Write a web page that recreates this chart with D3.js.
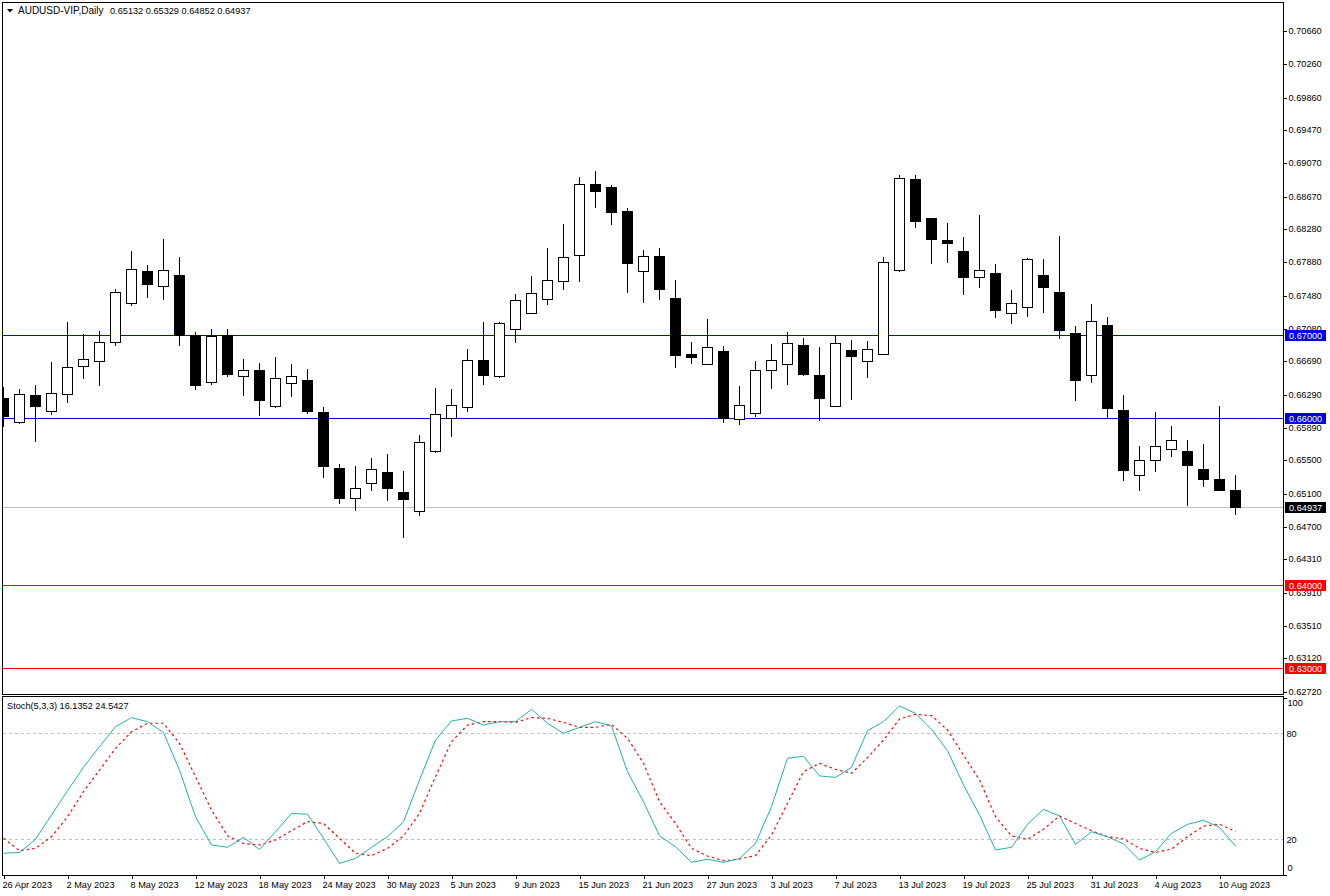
<!DOCTYPE html>
<html>
<head>
<meta charset="utf-8">
<script src="https://cdn.jsdelivr.net/npm/d3@7"></script>
<style>
  body { margin: 0; background: #fff; }
  text { font-family: "Liberation Sans", sans-serif; font-size: 9.2px; fill: #000; }
</style>
</head>
<body>
<script>
var opens = [.66245,.65957,.66281,.66084,.66293,.66630,.66690,.66918,.67387,.67772,.67591,.67724,.66994,.66438,.66994,.66510,.66582,.66149,.66426,.66462,
  .66077,.65404,.65043,.65224,.65356,.65115,.64887,.65608,.66005,.66137,.66702,.66510,.67075,.67267,.67435,.67652,.67964,.68817,.68781,.68493,
  .67772,.67952,.67447,.66774,.66654,.66810,.65993,.66065,.66582,.66654,.66882,.66522,.66149,.66822,.66690,.66774,.67784,.68877,.68409,.68136,
  .68012,.67700,.67748,.67267,.67339,.67724,.67519,.67026,.66522,.67123,.66101,.65320,.65500,.65632,.65608,.65392,.65272,.65132];
var highs = [.66393,.66357,.66417,.66682,.67171,.67026,.67063,.67567,.68024,.67856,.68168,.67952,.67051,.67087,.67087,.66726,.66678,.66750,.66666,.66606,
  .66149,.65464,.65440,.65536,.65584,.65380,.65813,.66377,.66365,.66846,.67171,.67171,.67507,.67724,.68060,.68349,.68914,.68986,.68817,.68541,
  .68036,.68060,.67676,.66930,.67207,.66882,.66401,.66702,.66906,.67051,.66978,.66870,.67002,.66954,.66942,.67952,.68938,.68938,.68409,.68361,
  .68192,.68457,.67868,.67555,.67940,.67928,.68204,.67123,.67387,.67231,.66293,.65680,.66089,.65921,.65753,.65704,.66161,.65329];
var lows = [.65904,.65940,.65724,.66048,.66192,.66481,.66397,.66878,.67358,.67454,.67430,.66878,.66349,.66409,.66505,.66277,.66036,.66132,.66265,.66060,
  .65291,.64978,.64894,.65135,.65015,.64570,.64834,.65591,.65784,.66084,.66409,.66493,.66914,.67267,.67370,.67551,.67647,.68536,.68332,.67514,
  .67394,.67430,.66613,.66661,.66654,.65952,.65928,.66024,.66361,.66409,.66517,.65976,.66149,.66228,.66493,.66774,.67767,.68296,.67863,.67875,
  .67490,.67575,.67214,.67142,.67226,.67274,.66962,.66216,.66433,.66005,.65255,.65135,.65363,.65543,.64954,.65183,.65135,.64852];
var closes = [.66024,.66293,.66144,.66305,.66618,.66714,.66918,.67519,.67796,.67611,.67784,.67006,.66397,.66990,.66529,.66582,.66216,.66486,.66510,.66084,
  .65423,.65039,.65164,.65392,.65159,.65027,.65716,.66053,.66161,.66702,.66517,.67147,.67423,.67507,.67663,.67940,.68817,.68728,.68476,.67863,
  .67952,.67551,.66757,.66733,.66858,.66005,.66161,.66582,.66702,.66906,.66529,.66240,.66906,.66745,.66834,.67880,.68889,.68368,.68151,.68103,
  .67695,.67784,.67298,.67387,.67916,.67575,.67058,.66457,.67171,.66120,.65375,.65500,.65668,.65740,.65435,.65267,.65135,.64937];

var stochMain = [12.1,12.6,20,33.8,47.5,60.8,72.5,83.8,88.9,86.6,80.4,59.2,32.8,16.8,15.5,21.1,14.3,24.3,34.7,34.2,
  20.6,6.4,9.2,15.5,21.5,30,53.6,76.2,87,88.5,84.7,86.6,86.6,93.6,85.7,80,83.4,86.6,84.2,58.3,
  41.3,22,15.8,7,8.7,7,9.1,17.7,38.5,65.9,67,55.9,55.1,60.8,81.5,86.6,95.5,91.3,82.3,70.2,
  50.8,33.8,14,15.5,28.5,37,33.2,17.2,24.3,21.5,17.4,8.3,13,23.4,28.5,30.8,26.8,16.1352];
var stochSignal = [20.6,13.6,14.9,21.5,32.8,47,59.2,71.5,80.9,85.7,85.7,74.3,55.5,36.6,22,17.7,16.8,19.6,24.9,30,
  29,20.6,12.1,10.8,14.9,22,34.7,55.5,75.3,84.7,86.6,86.6,86.2,88.9,88.5,86.2,83.4,83.4,85.1,77.2,
  63,41.3,29,14.9,10.6,7.9,8.9,10.8,22.5,40.4,58.3,63,59.6,57.4,66.2,76.2,88.1,90.8,90,81.9,
  67.7,53.6,32.8,21.9,20,25.7,33.2,29,24.9,21.5,20.2,14.9,12.6,14.5,21.5,27.5,28.5,24.5427];

var priceTicks = [.7066,.7026,.6986,.6947,.6907,.6867,.6828,.6788,.6748,.6708,.6669,.6629,.6589,.655,.651,.647,.6431,.6391,.6351,.6312,.6272];
var stochTicks = [100,80,20,0];
var stochLevels = [80,20];
var dateTickIndex = [0,4,8,12,16,20,24,28,32,36,40,44,48,52,56,60,64,68,72,76];
var dateTickLabels = ['26 Apr 2023','2 May 2023','8 May 2023','12 May 2023','18 May 2023','24 May 2023','30 May 2023','5 Jun 2023','9 Jun 2023','15 Jun 2023',
  '21 Jun 2023','27 Jun 2023','3 Jul 2023','7 Jul 2023','13 Jul 2023','19 Jul 2023','25 Jul 2023','31 Jul 2023','4 Aug 2023','10 Aug 2023'];

var levelPrices = [.67,.66,.64,.63];
var levelColors = ['#0000e6','#0000e6','#ff0000','#ff0000'];
var lastPrice = .64937;

var left = 2.5, right = 1283.5;
var mainTop = 2.5, mainBottom = 694.5, subTop = 696.5, subBottom = 875.5;

var svg = d3.select('body').append('svg')
  .attr('width', 1330)
  .attr('height', 896)
  .style('display', 'block');

var x = d3.scaleLinear().domain([0, 77]).range([3.5, 1235.5]);
// 8320 px per 1.0 of price, y = 335.5 at 0.67000
var y = d3.scaleLinear().domain([.67 + 333 / 8320, .67 - 358.5 / 8320]).range([2.5, 694]);
var ys = d3.scaleLinear().domain([0, 100]).range([874.7, 698]);

function py(p) { return Math.floor(y(p)) + .5; }

svg.append('defs').append('clipPath').attr('id', 'plot')
  .append('rect').attr('x', left).attr('y', mainTop).attr('width', right - left).attr('height', mainBottom - mainTop);

// price levels go behind the candles
svg.selectAll('.level')
  .data(levelPrices)
  .enter().append('line')
  .attr('class', 'level')
  .attr('x1', left).attr('x2', right)
  .attr('y1', function(d) {return py(d)})
  .attr('y2', function(d) {return py(d)})
  .attr('stroke', function(d, i) {return levelColors[i]})
  .attr('shape-rendering', 'crispEdges');

svg.append('line')
  .attr('x1', left).attr('x2', right)
  .attr('y1', py(lastPrice)).attr('y2', py(lastPrice))
  .attr('stroke', '#c0c0c0')
  .attr('shape-rendering', 'crispEdges');

var candles = svg.append('g').attr('clip-path', 'url(#plot)')
  .selectAll('g')
  .data(d3.range(opens.length))
  .enter().append('g')
  .attr('shape-rendering', 'crispEdges');

candles.append('line')
  .attr('x1', function(i) {return x(i)})
  .attr('x2', function(i) {return x(i)})
  .attr('y1', function(i) {return py(highs[i])})
  .attr('y2', function(i) {return py(lows[i])})
  .attr('stroke', '#000');

candles.append('rect')
  .attr('x', function(i) {return x(i) - 5})
  .attr('width', 10)
  .attr('y', function(i) {return py(Math.max(opens[i], closes[i]))})
  .attr('height', function(i) {return Math.max(1, py(Math.min(opens[i], closes[i])) - py(Math.max(opens[i], closes[i])))})
  .attr('fill', function(i) {return closes[i] >= opens[i] ? '#fff' : '#000'})
  .attr('stroke', '#000');

// stochastic panel
svg.selectAll('.stoch-level')
  .data(stochLevels)
  .enter().append('line')
  .attr('class', 'stoch-level')
  .attr('x1', left).attr('x2', right)
  .attr('y1', function(d) {return Math.floor(ys(d)) + .5})
  .attr('y2', function(d) {return Math.floor(ys(d)) + .5})
  .attr('stroke', '#c0c0c0')
  .attr('stroke-dasharray', '3,3')
  .attr('shape-rendering', 'crispEdges');

var line = d3.line()
  .x(function(d, i) {return x(i)})
  .y(function(d) {return ys(d)});

svg.append('path').datum(stochSignal)
  .attr('d', line)
  .attr('fill', 'none')
  .attr('stroke', '#ff0000')
  .attr('stroke-width', 1.2)
  .attr('stroke-dasharray', '2.5,3');

svg.append('path').datum(stochMain)
  .attr('d', line)
  .attr('fill', 'none')
  .attr('stroke', '#20b2aa');

// axes
var priceAxis = d3.axisRight(y)
  .tickValues(priceTicks)
  .tickFormat(d3.format('.5f'))
  .tickSize(3)
  .tickPadding(2);
var priceG = svg.append('g').attr('transform', 'translate(' + right + ',0)').call(priceAxis);
priceG.select('.domain').remove();
priceG.selectAll('.tick text').attr('y', -.5);

var stochAxis = d3.axisRight(ys)
  .tickValues(stochTicks)
  .tickSize(3)
  .tickPadding(0);
var stochG = svg.append('g').attr('transform', 'translate(' + right + ',0)').call(stochAxis);
stochG.select('.domain').remove();
stochG.selectAll('.tick line').attr('x2', function(d) {return d == 100 || d == 0 ? 3 : 0});
stochG.selectAll('.tick text')
  .attr('x', function(d) {return d == 100 || d == 0 ? 4 : 3})
  .attr('y', function(d) {return d == 100 ? 5 : d == 0 ? -7 : 0});

var dateAxis = d3.axisBottom(x)
  .tickValues(dateTickIndex)
  .tickFormat(function(d, i) {return dateTickLabels[i]})
  .tickSize(3)
  .tickPadding(3);
var dateG = svg.append('g').attr('transform', 'translate(0,' + subBottom + ')').call(dateAxis);
dateG.select('.domain').remove();
dateG.selectAll('.tick text').attr('text-anchor', 'start').attr('x', -1.5);

svg.selectAll('.tick text').style('font-family', '"Liberation Sans", sans-serif').style('font-size', '9.2px');
svg.selectAll('.tick line').attr('shape-rendering', 'crispEdges');

// price tags on the axis
var tags = levelPrices.map(function(p, i) {return {p: p, c: levelColors[i]}});
tags.push({p: lastPrice, c: '#000'});

var tag = svg.selectAll('.tag').data(tags).enter().append('g').attr('class', 'tag');
tag.append('rect')
  .attr('x', 1285)
  .attr('y', function(d) {return py(d.p) - 6})
  .attr('width', 41)
  .attr('height', 11)
  .attr('fill', function(d) {return d.c})
  .attr('shape-rendering', 'crispEdges');
tag.append('text')
  .attr('x', 1289)
  .attr('y', function(d) {return py(d.p) + 3})
  .style('fill', '#fff')
  .text(function(d) {return d3.format('.5f')(d.p)});

// frames
var frame = svg.append('g').attr('fill', 'none').attr('stroke', '#000').attr('shape-rendering', 'crispEdges');
frame.append('rect').attr('x', left).attr('y', mainTop).attr('width', right - left).attr('height', mainBottom - mainTop);
frame.append('rect').attr('x', left).attr('y', subTop).attr('width', right - left).attr('height', subBottom - subTop);

// header text
svg.append('path')
  .attr('d', d3.line()([[7, 9], [13, 9], [10, 12.5]]) + 'Z')
  .attr('fill', '#000');
svg.append('text').attr('x', 18).attr('y', 14).style('font-size', '10px').text('AUDUSD-VIP,Daily');
svg.append('text').attr('x', 110).attr('y', 14).text('0.65132 0.65329 0.64852 0.64937');
svg.append('text').attr('x', 7).attr('y', 709).text('Stoch(5,3,3) 16.1352 24.5427');
</script>
</body>
</html>
